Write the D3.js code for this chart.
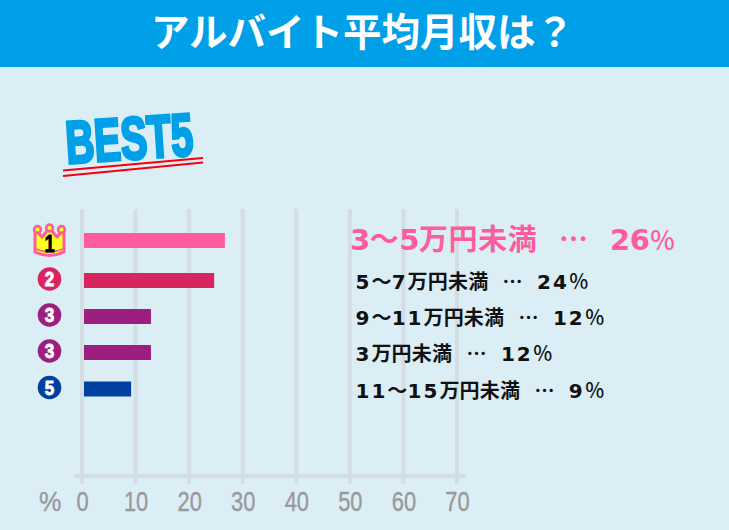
<!DOCTYPE html>
<html><head><meta charset="utf-8">
<script src="https://cdn.jsdelivr.net/npm/d3@7"></script>
<style>
html,body{margin:0;padding:0;background:#dbeef6}
svg{display:block}
text{white-space:pre}
</style></head><body>
<svg id="c" width="729" height="530"></svg>
<script>
const titleText = "アルバイト平均月収は？";
const badgeText = "BEST5";
const categories = ["3～5万円未満","5～7万円未満","9～11万円未満","3万円未満","11～15万円未満"];
const percentLabels = [26,24,12,12,9];
const barLengths = [26.3,24.3,12.5,12.5,8.8];
const ranks = [1,2,3,3,5];
const barColors = ["#ff5c9e","#d9255f","#9c1f80","#9c1f80","#00409e"];
const tickValues = [0,10,20,30,40,50,60,70];

const svg = d3.select("#c");
const CJK = '"Noto Sans CJK JP",sans-serif';
const SANS = '"Liberation Sans",sans-serif';
const WIDE = '"DejaVu Sans",sans-serif';
const BG = "#dbeef6", GRID = "#d3dde2";

svg.append("rect").attr("width",729).attr("height",530).attr("fill",BG);
svg.append("rect").attr("width",729).attr("height",67).attr("fill","#00a0e9");
svg.append("text").attr("x",362.5).attr("y",46).attr("text-anchor","middle")
  .attr("fill","#fff").attr("font-family",CJK).attr("font-weight",700)
  .attr("font-size",38.5).text(titleText);

// BEST5 logo
const logo = svg.append("g");
logo.append("text").attr("transform","translate(67,163.5) rotate(-3.8) scale(.66,1)")
  .attr("font-family",SANS).attr("font-weight",700).attr("font-size",60)
  .attr("fill","#00a0e9").attr("stroke","#00a0e9").attr("stroke-width",3.2).text(badgeText);
logo.append("path").attr("d","M63,170.5L203,158M63,176L203,162.5")
  .attr("stroke","#f5000f").attr("stroke-width",2.2).attr("fill","none");

// scales
const x = d3.scaleLinear().domain([0,70]).range([82,457]);
const y = d3.scaleOrdinal().domain(d3.range(categories.length)).range([240.5,280.5,316.5,352.5,389]);
const BAR_H = 15, BAR_X = 84;

// grid
svg.append("g").selectAll("line").data(tickValues).join("line")
  .attr("x1",d=>x(d)).attr("x2",d=>x(d)).attr("y1",209).attr("y2",484)
  .attr("stroke",GRID).attr("stroke-width",4);
svg.append("line").attr("x1",74).attr("x2",466).attr("y1",476).attr("y2",476)
  .attr("stroke",GRID).attr("stroke-width",4.5);

// tick labels
svg.append("g").selectAll("text").data(tickValues).join("text")
  .attr("transform",d=>`translate(${x(d)+0.5},511) scale(.78,1)`).attr("text-anchor","middle")
  .attr("font-family",SANS).attr("font-size",28).attr("fill","#999")
  .attr("stroke","#999").attr("stroke-width",.4).text(d=>d);
svg.append("text").attr("transform","translate(39,511) scale(.9,1)").attr("font-family",SANS)
  .attr("font-size",28).attr("fill","#999").attr("stroke","#999").attr("stroke-width",.4).text("%");

// bars
svg.append("g").selectAll("rect").data(barLengths).join("rect")
  .attr("x",BAR_X).attr("y",(d,i)=>y(i)-BAR_H/2).attr("height",BAR_H)
  .attr("width",d=>x(d)-x(0)).attr("fill",(d,i)=>barColors[i]);

// rank markers
const crown = svg.append("g");
crown.append("path")
  .attr("d","M35,229 L42,237 L49.5,228 L57,237 L64,229 L64,252 Q49.5,259 35,252 Z")
  .attr("fill","#ffff1e").attr("stroke","#ff5c9e").attr("stroke-width",3).attr("stroke-linejoin","round");
[[37.5,229.5],[49.5,228],[61.5,229.5]].forEach(p=>crown.append("circle").attr("cx",p[0]).attr("cy",p[1])
  .attr("r",3.4).attr("fill","#ffff1e").attr("stroke","#ff5c9e").attr("stroke-width",2.6));
crown.append("path").attr("d","M36,249 Q49.5,255 63,249").attr("fill","none").attr("stroke","#ff5c9e").attr("stroke-width",1.4);
crown.append("text").attr("transform","translate(49.5,252) scale(.8,1)").attr("text-anchor","middle")
  .attr("font-family",SANS).attr("font-weight",700).attr("font-size",23)
  .attr("stroke","#000").attr("stroke-width",.8).text(ranks[0]);

const badges = svg.append("g").selectAll("g").data(ranks.slice(1)).join("g")
  .attr("transform",(d,i)=>`translate(49.5,${y(i+1)-1.5})`);
badges.append("circle").attr("r",11.8).attr("fill",(d,i)=>barColors[i+1]);
badges.append("text").attr("transform","translate(0,7) scale(.85,1)").attr("text-anchor","middle").attr("fill","#fff")
  .attr("stroke","#fff").attr("stroke-width",.9)
  .attr("font-family",SANS).attr("font-weight",700).attr("font-size",20).text(d=>d);

// labels
const baselines = [250,288.5,325,361,398];
categories.forEach((c,i)=>{
  const top = i===0;
  const t = svg.append("text").attr("x",top?350:355.5).attr("y",baselines[i])
    .attr("font-family",CJK).attr("font-weight",700).attr("fill",top?"#ff5c9e":"#111");
  const full = c+"   …   "+percentLabels[i]+"％";
  (full.match(/[0-9]+|[^0-9]+/g)).forEach(run=>{
    if(/^[0-9]/.test(run)){
      t.append("tspan").text(run).attr("font-family",WIDE)
        .attr("font-size",top?29:20).attr("letter-spacing",top?-0.5:2);
    } else if(run==="％"){
      t.append("tspan").text(run).attr("font-weight",500)
        .attr("font-size",top?26:20);
    } else {
      t.append("tspan").text(run).attr("font-size",top?29:20).attr("letter-spacing",top?0.6:0.2);
    }
  });
});
</script>
</body></html>
